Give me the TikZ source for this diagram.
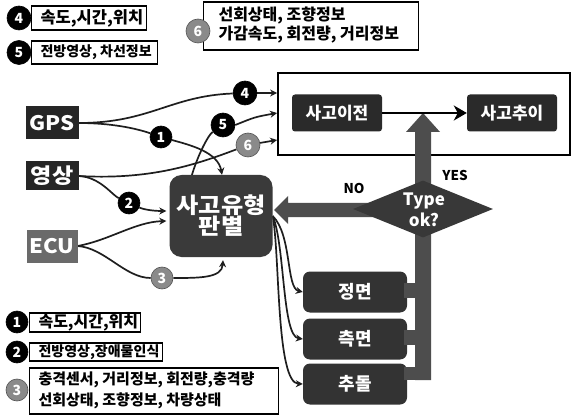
\documentclass[tikz,border=0pt]{standalone}
\usepackage{fontspec}
\setmainfont{Noto Sans CJK KR}
\newfontfamily\nf{Noto Sans CJK KR}[FakeStretch=1.1]
\usetikzlibrary{arrows.meta,shapes.geometric,calc}
\pgfdeclarelayer{background}
\pgfsetlayers{background,main}
\definecolor{srcdark}{HTML}{262626}
\definecolor{srcgray}{HTML}{6A6A6A}
\definecolor{judgec}{HTML}{3A3A3A}
\definecolor{stagec}{HTML}{2A2A2A}
\definecolor{typec}{HTML}{333333}
\definecolor{bigarr}{HTML}{4D4D4D}
\definecolor{diac}{HTML}{383838}
\definecolor{numgrayc}{HTML}{8A8A8A}
\definecolor{linec}{HTML}{1E1E1E}
\tikzset{
  conn/.style={draw=linec, line width=1.7pt},
  arr/.style={conn, -{Stealth[length=7pt,width=7pt]}},
  srcbox/.style={rectangle, fill=#1, text=white, inner sep=0pt, font=\nf\bfseries\fontsize{20}{20}\selectfont},
  stagebox/.style={rectangle, rounded corners=3pt, fill=stagec, text=white, minimum width=90pt, minimum height=37pt, inner sep=0pt, font=\bfseries\fontsize{17}{17}\selectfont},
  typebox/.style={rectangle, rounded corners=7pt, fill=typec, text=white, minimum width=104pt, minimum height=41pt, inner sep=0pt, font=\bfseries\fontsize{18}{18}\selectfont},
  num/.style={circle, fill=black, draw=black, line width=0.6pt, text=white, minimum size=#1, inner sep=0pt, font=\bfseries\fontsize{14}{14}\selectfont},
  num/.default=24pt,
  numg/.style={num=#1, fill=numgrayc, draw=numgrayc!60!black},
  numg/.default=24pt,
  legbox/.style={rectangle, draw=black, line width=1.1pt, fill=white, anchor=west, inner xsep=9pt, inner ysep=0pt},
  lbl/.style={font=\bfseries\fontsize{13.5}{13.5}\selectfont},
}
\newcommand{\legfont}[1]{\bfseries\fontsize{#1}{#1}\selectfont}
\begin{document}
\begin{tikzpicture}[x=1pt,y=-1pt]
\useasboundingbox (0,0) rectangle (576,417);

% legends top
\node[legbox, minimum width=115pt, minimum height=24pt, font=\legfont{16.5}] (l4) at (31,18) {\makebox[97pt][l]{속도,시간,위치}};
\node[num] (n4) at (19,18) {4};
\node[legbox, minimum width=126pt, minimum height=23pt, font=\legfont{14}] (l5) at (31,52.5) {\makebox[108pt][l]{전방영상, 차선정보}};
\node[num] (n5) at (19,52.5) {5};
\node[legbox, minimum width=215pt, minimum height=48pt, font=\bfseries\fontsize{16}{17}\selectfont] (l6) at (203,26) {\makebox[197pt][l]{\hspace{6pt}\begin{tabular}{@{}l@{}}선회상태, 조향정보\\가감속도, 회전량, 거리정보\end{tabular}}};
\node[numg] (n6) at (198,31) {6};

% legends bottom
\node[legbox, minimum width=111pt, minimum height=19pt, font=\legfont{16}] (b1) at (29,322.5) {\makebox[93pt][l]{속도,시간,위치}};
\node[num=22pt] (m1) at (17,322) {1};
\node[legbox, minimum width=133pt, minimum height=18pt, font=\legfont{14}] (b2) at (29,352) {\makebox[115pt][l]{전방영상,장애물인식}};
\node[num=22pt] (m2) at (17,352) {2};
\node[legbox, minimum width=249pt, minimum height=46pt, font=\bfseries\fontsize{15}{21}\selectfont] (b3) at (29,391) {\makebox[231pt][l]{\begin{tabular}{@{}l@{}}충격센서, 거리정보, 회전량,충격량\\선회상태, 조향정보, 차량상태\end{tabular}}};
\node[numg=22pt] (m3) at (17,390) {3};

% sources
\node[srcbox=srcdark, minimum width=53pt, minimum height=33pt] (gps) at (52,123) {GPS};
\node[srcbox=srcdark, minimum width=53pt, minimum height=29pt, font=\nf\bfseries\fontsize{21}{21}\selectfont] (img) at (52,176) {영상};
\node[srcbox=srcgray, minimum width=51pt, minimum height=33pt] (ecu) at (52,246) {ECU};

% judge
\node[rectangle, rounded corners=12pt, fill=judgec, text=white, minimum width=103pt, minimum height=82pt, inner sep=0pt, align=center, font=\nf\bfseries\fontsize{22}{21}\selectfont] (judge) at (221,216) {사고유형\\판별};

% outer box
\node[draw=black, line width=1.8pt, fill=white, minimum width=292pt, minimum height=82pt, inner sep=0pt] (outer) at (424,114) {};

% big vertical arrow (YES)
\fill[bigarr] (415,380) -- (415,132) -- (406,132) -- (423,113) -- (440,132) -- (431,132) -- (431,380) -- cycle;

% type boxes
\node[typebox] (front) at (355,292) {정면};
\node[typebox] (side) at (355,339) {측면};
\node[typebox] (rear) at (355,384) {추돌};
\fill[bigarr] (404,283) rectangle (416,298);
\fill[bigarr] (404,330) rectangle (416,345);
\fill[bigarr] (404,367) rectangle (416,380);

% NO arrow
\fill[bigarr] (380,203) -- (288,203) -- (288,196) -- (274,210) -- (288,224) -- (288,217) -- (380,217) -- cycle;

% decision
\node[diamond, fill=diac, minimum width=140pt, minimum height=57pt, inner sep=0pt] (dia) at (423,209) {};
\node[text=white, align=center, inner sep=0pt, font=\bfseries\fontsize{17}{21}\selectfont] (typet) at (424,210) {Type\\ok?};
\node[lbl] (no) at (354,188) {NO};
\node[lbl] (yes) at (455,175) {YES};

% stages
\node[stagebox] (pre) at (337,113) {사고이전};
\node[stagebox] (post) at (512,113) {사고추이};
\draw[line width=2.4pt, -{Stealth[length=13pt,width=15pt,inset=4pt]}] (pre) -- (post);

% numbered circles on connectors
\node[num=22pt] (c1) at (161,137) {1};
\node[num=22pt] (c2) at (129,203) {2};
\node[numg=22pt] (c3) at (162,278) {3};
\node[num=24pt] (c4) at (245,93) {4};
\node[num=24pt] (c5) at (223,125) {5};
\node[numg=24pt] (c6) at (248,145) {6};

\coordinate (t4) at ($(outer.west)+(0,-21)$);
\coordinate (t5) at ($(outer.west)+(0,-1)$);
\coordinate (t6) at ($(outer.west)+(0,26)$);
\coordinate (p5) at ($(judge.north west)+(20,10)$);

\begin{pgfonlayer}{background}
\fill[white] (0,0) rectangle (576,417);
\draw[conn] (gps.east) .. controls (150,123) and (170,96) .. (c4);
\draw[conn] (gps.east) .. controls (110,123) and (135,128) .. (c1);
\draw[arr] (c1) .. controls (190,145) and (218,152) .. ($(judge.north)+(1,0)$);
\draw[conn] (img.east) .. controls (100,177) and (112,195) .. (c2);
\draw[arr] (c2) .. controls (145,210) and (155,211) .. ($(judge.west)+(-3,-5)$);
\draw[arr] (ecu.east) .. controls (110,240) and (135,222) .. ($(judge.west)+(-3,5)$);
\draw[conn] (ecu.east) .. controls (105,248) and (125,278) .. (c3);
\draw[arr] (c3) .. controls (200,278) and (222,278) .. ($(judge.south)+(2,3)$);
\draw[conn] (img.east) .. controls (150,180) and (195,165) .. (c6);
\draw[conn] (p5) .. controls (195,160) and (208,135) .. (c5);
\draw[arr] (c4) -- (t4);
\draw[arr] (c5.east) .. controls (255,117) .. (t5);
\draw[arr] (c6) -- (t6);
\draw[arr] (judge.east) .. controls (292,235) and (286,288) .. (front.west);
\draw[arr] (judge.east) .. controls (285,245) and (282,336) .. (side.west);
\draw[arr] (judge.east) .. controls (280,255) and (276,383) .. (rear.west);
\end{pgfonlayer}
\end{tikzpicture}
\end{document}
